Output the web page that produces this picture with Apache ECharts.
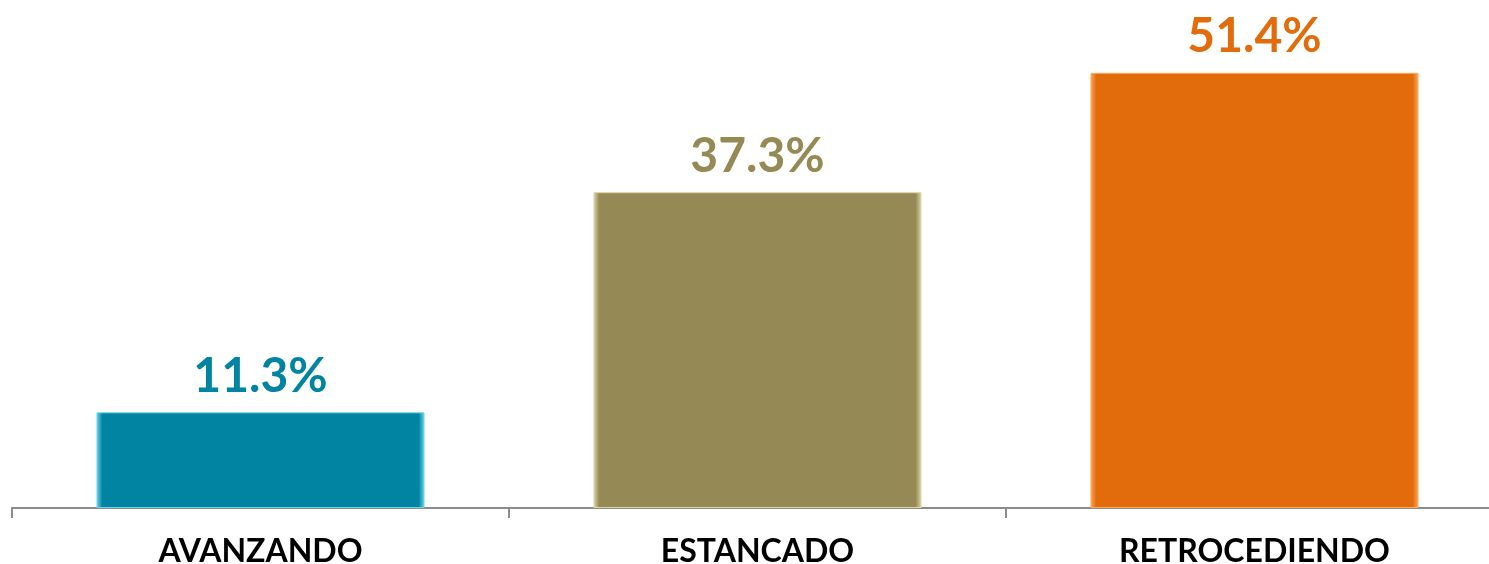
<!DOCTYPE html>
<html>
<head>
<meta charset="utf-8">
<script src="https://cdn.jsdelivr.net/npm/echarts@6/dist/echarts.min.js"></script>
<style>
html,body{margin:0;padding:0;background:#fff;}
#chart{width:1489px;height:564px;}
</style>
</head>
<body>
<div id="chart"></div>
<script>
const categories = ['AVANZANDO', 'ESTANCADO', 'RETROCEDIENDO'];
const values = [11.3, 37.3, 51.4];
const barColors = ['#0084A2', '#958A55', '#E26B0B'];
const edgeColors = ['#6FD3EC', '#DDD6A6', '#FBAA5A'];

const chart = echarts.init(document.getElementById('chart'));
const data = values.map((v, i) => ({
  value: v,
  itemStyle: {
    color: {
      type: 'linear', x: 0, y: 0, x2: 1, y2: 0,
      colorStops: [
        {offset: 0, color: edgeColors[i]},
        {offset: 0.018, color: barColors[i]},
        {offset: 0.982, color: barColors[i]},
        {offset: 1, color: edgeColors[i]}
      ]
    },
    borderColor: edgeColors[i],
    borderWidth: 1
  },
  label: { color: barColors[i] }
}));

chart.setOption({
  animation: false,
  grid: { left: 12, width: 1491, top: 0, bottom: 56, containLabel: false, outerBoundsMode: 'none' },
  xAxis: {
    type: 'category',
    data: categories,
    boundaryGap: true,
    axisLine: { lineStyle: { color: '#8c8c8c', width: 2 } },
    axisTick: { show: true, length: 10, lineStyle: { color: '#8c8c8c', width: 2 } },
    axisLabel: {
      color: '#000', fontFamily: 'Lato', fontWeight: 'bold', fontSize: 32, margin: 28
    }
  },
  yAxis: { type: 'value', min: 0, max: 60, show: false, splitLine: { show: false } },
  series: [{
    type: 'bar',
    data: data,
    barWidth: '66%',
    label: {
      show: true, position: 'top', distance: 12,
      formatter: p => p.value.toFixed(1) + '%',
      fontFamily: 'Lato', fontWeight: 'bold', fontSize: 48
    }
  }]
});
</script>
</body>
</html>
